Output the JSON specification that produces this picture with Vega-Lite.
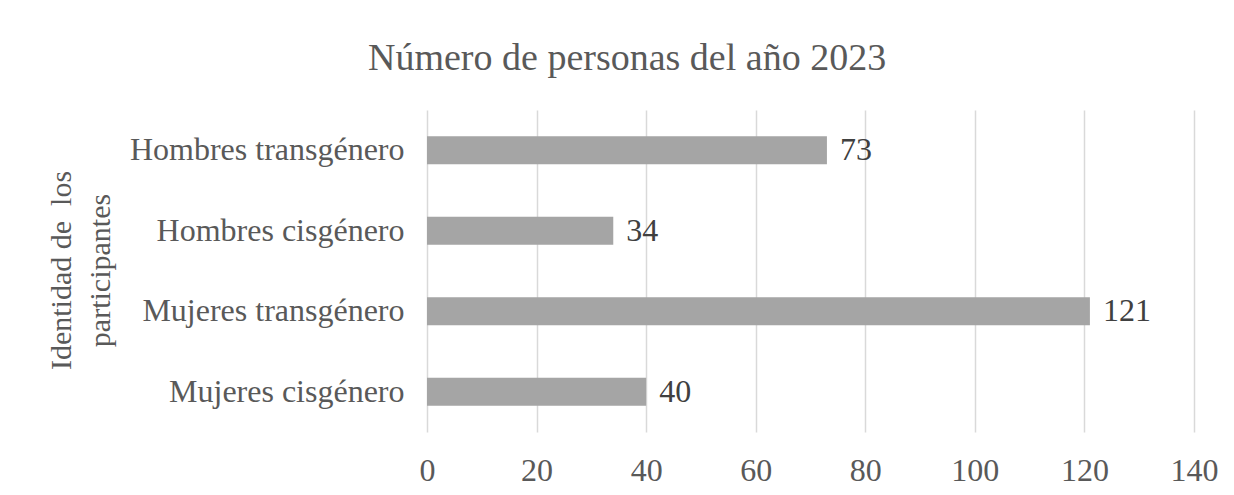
{
  "$schema": "https://vega.github.io/schema/vega-lite/v6.json",
  "autosize": {"type": "none"},
  "width": 767,
  "height": 322,
  "padding": {"left": 427, "top": 110, "right": 40, "bottom": 63},
  "background": "white",
  "title": {
    "text": "Número de personas del año 2023",
    "anchor": "start",
    "frame": "group",
    "dx": -59,
    "offset": 32,
    "font": "Liberation Serif",
    "fontSize": 38,
    "fontWeight": "normal",
    "color": "#595959"
  },
  "data": {
    "values": [
      {"identidad": "Hombres transgénero", "personas": 73},
      {"identidad": "Hombres cisgénero", "personas": 34},
      {"identidad": "Mujeres transgénero", "personas": 121},
      {"identidad": "Mujeres cisgénero", "personas": 40}
    ]
  },
  "encoding": {
    "y": {
      "field": "identidad",
      "type": "nominal",
      "sort": null,
      "scale": {"paddingInner": 0.65, "paddingOuter": 0.325},
      "axis": {
        "title": ["Identidad de\u00a0 los", "participantes"],
        "titleFont": "Liberation Serif",
        "titleFontSize": 30,
        "titleFontWeight": "normal",
        "titleColor": "#595959",
        "titleLineHeight": 39,
        "titleAngle": -90,
        "titleX": -366,
        "titleY": 160,
        "titleAlign": "center",
        "titleBaseline": "middle",
        "labelFont": "Liberation Serif",
        "labelFontSize": 32,
        "labelColor": "#595959",
        "labelPadding": 23,
        "labelLimit": 500,
        "ticks": false,
        "domain": false,
        "grid": false
      }
    },
    "x": {
      "field": "personas",
      "type": "quantitative",
      "scale": {"domain": [0, 140], "nice": false},
      "axis": {
        "title": null,
        "values": [0, 20, 40, 60, 80, 100, 120, 140],
        "labelFont": "Liberation Serif",
        "labelFontSize": 32,
        "labelColor": "#595959",
        "labelPadding": 23,
        "labelFlush": false,
        "labelOverlap": false,
        "ticks": false,
        "domain": false,
        "grid": true,
        "gridColor": "#d9d9d9",
        "gridWidth": 1.5
      }
    }
  },
  "layer": [
    {"mark": {"type": "bar", "color": "#a5a5a5"}},
    {
      "mark": {
        "type": "text",
        "align": "left",
        "baseline": "middle",
        "dx": 13,
        "font": "Liberation Serif",
        "fontSize": 32,
        "color": "#404040"
      },
      "encoding": {"text": {"field": "personas", "type": "quantitative"}}
    }
  ],
  "config": {"view": {"stroke": null}}
}
